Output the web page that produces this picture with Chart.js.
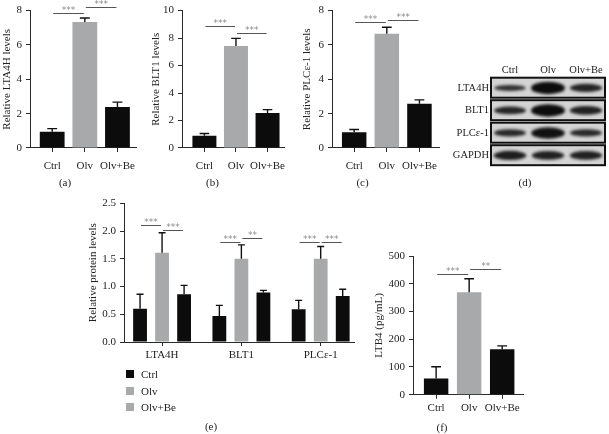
<!DOCTYPE html>
<html>
<head>
<meta charset="utf-8">
<script src="https://cdn.jsdelivr.net/npm/chart.js@4.4.1/dist/chart.umd.min.js"></script>
<style>
  html, body { margin: 0; padding: 0; background: #fff; overflow: hidden; }
  body { position: relative; width: 609px; height: 434px; }
  canvas { position: absolute; }
  #legendE { position: absolute; left: 126px; top: 366px; font: 11px "Liberation Serif", serif; color: #222; }
  #legendE div { height: 16.5px; display: flex; align-items: center; }
  #legendE span { display: inline-block; width: 8px; height: 8px; margin-right: 7px; }
</style>
</head>
<body>
<canvas id="a"></canvas>
<canvas id="b"></canvas>
<canvas id="c"></canvas>
<canvas id="d"></canvas>
<canvas id="e"></canvas>
<canvas id="f"></canvas>
<div id="legendE"></div>
<script>
// groups and values
const groups = ['Ctrl', 'Olv', 'Olv+Be'];

const lta4hMean = [0.94, 7.34, 2.38];
const lta4hSD = [0.19, 0.23, 0.29];
const blt1Mean = [0.89, 7.43, 2.55];
const blt1SD = [0.17, 0.55, 0.24];
const plcMean = [0.92, 6.65, 2.57];
const plcSD = [0.16, 0.38, 0.23];

const proteins = ['LTA4H', 'BLT1', 'PLCε-1'];
const protCtrl = [0.6, 0.47, 0.59];
const protCtrlSD = [0.26, 0.19, 0.16];
const protOlv = [1.61, 1.5, 1.5];
const protOlvSD = [0.36, 0.25, 0.22];
const protOlvBe = [0.86, 0.89, 0.83];
const protOlvBeSD = [0.16, 0.04, 0.12];

const ltb4Mean = [58, 369, 164];
const ltb4SD = [43, 49, 12];

// western blot rows and band strength (0..1)
const blotRows = ['LTA4H', 'BLT1', 'PLCε-1', 'GAPDH'];
const bandLTA4H = [0.3, 1.0, 0.55];
const bandBLT1 = [0.5, 1.0, 0.6];
const bandPLC = [0.45, 0.9, 0.45];
const bandGAPDH = [0.65, 0.6, 0.6];

// y ticks
const ticksA = [0, 2, 4, 6, 8];
const ticksB = [0, 2, 4, 6, 8, 10];
const ticksC = [0, 2, 4, 6, 8];
const ticksE = [0, 0.5, 1, 1.5, 2, 2.5];
const ticksF = [0, 100, 200, 300, 400, 500];

// significance: [datasetA, indexA, datasetB, indexB, level, label]
const sigA = [[0, 0, 0, 1, 7.86, '***'], [0, 1, 0, 2, 8.19, '***']];
const sigB = [[0, 0, 0, 1, 8.87, '***'], [0, 1, 0, 2, 8.34, '***']];
const sigC = [[0, 0, 0, 1, 7.34, '***'], [0, 1, 0, 2, 7.48, '***']];
const sigE = [
  [0, 0, 1, 0, 2.1, '***'], [1, 0, 2, 0, 2.02, '***'],
  [0, 1, 1, 1, 1.81, '***'], [1, 1, 2, 1, 1.88, '**'],
  [0, 2, 1, 2, 1.8, '***'], [1, 2, 2, 2, 1.8, '***']
];
const sigF = [[0, 0, 0, 1, 434, '***'], [0, 1, 0, 2, 452, '**']];

Chart.defaults.font.family = '"Liberation Serif", "DejaVu Serif", serif';
Chart.defaults.font.size = 11;
Chart.defaults.color = '#222';
Chart.defaults.animation = false;

const BLACK = '#0c0c0c';
const GRAY = '#a7a9ab';
const AXIS = '#2a2a2a';

const errorBars = {
  id: 'errorBars',
  afterDatasetsDraw(chart) {
    const { ctx, scales: { y } } = chart;
    chart.data.datasets.forEach((ds, di) => {
      chart.getDatasetMeta(di).data.forEach((bar, i) => {
        const top = y.getPixelForValue(ds.data[i].y + ds.sd[i]);
        const cap = Math.max(bar.width * 0.2, 3.5);
        ctx.save();
        ctx.strokeStyle = '#111';
        ctx.lineWidth = 1.4;
        ctx.beginPath();
        ctx.moveTo(bar.x, bar.y);
        ctx.lineTo(bar.x, top);
        ctx.moveTo(bar.x - cap, top);
        ctx.lineTo(bar.x + cap, top);
        ctx.stroke();
        ctx.restore();
      });
    });
  }
};

const sigBars = {
  id: 'sigBars',
  afterDatasetsDraw(chart, args, opts) {
    const { ctx, scales: { y } } = chart;
    (opts.items || []).forEach(([da, ia, db, ib, v, txt]) => {
      const xa = chart.getDatasetMeta(da).data[ia].x + 1;
      const xb = chart.getDatasetMeta(db).data[ib].x - 1;
      const yy = Math.round(y.getPixelForValue(v)) + 0.5;
      ctx.save();
      ctx.strokeStyle = '#555';
      ctx.lineWidth = 1;
      ctx.beginPath();
      ctx.moveTo(xa, yy);
      ctx.lineTo(xb, yy);
      ctx.stroke();
      ctx.fillStyle = '#8a8a8a';
      ctx.font = '9px "DejaVu Sans"';
      ctx.textAlign = 'center';
      ctx.fillText(txt, (xa + xb) / 2, yy - 1);
      ctx.restore();
    });
  }
};

const blot = {
  id: 'blot',
  beforeDatasetsDraw(chart) {
    const { ctx, chartArea: ca, scales: { y } } = chart;
    const rh = Math.abs(y.getPixelForValue(1) - y.getPixelForValue(0));
    chart.data.datasets.forEach((ds, r) => {
      const cy = y.getPixelForValue(r);
      const top = cy - rh / 2 + 1;
      const h = rh - 2.5;
      ctx.save();
      ctx.fillStyle = '#d4d4d4';
      ctx.fillRect(ca.left, top, ca.right - ca.left, h);
      ctx.beginPath();
      ctx.rect(ca.left, top, ca.right - ca.left, h);
      ctx.clip();
      ctx.filter = 'blur(1.6px)';
      chart.getDatasetMeta(r).data.forEach((pt, i) => {
        const v = ds.band[i];
        ctx.fillStyle = 'rgba(12,12,12,' + (0.75 + v * 0.25) + ')';
        ctx.beginPath();
        ctx.ellipse(pt.x, cy, 15 + v * 2, 1.6 + v * 4.6, 0, 0, Math.PI * 2);
        ctx.fill();
      });
      ctx.restore();
      ctx.save();
      ctx.strokeStyle = '#111';
      ctx.lineWidth = 2;
      ctx.strokeRect(ca.left, top, ca.right - ca.left, h);
      ctx.restore();
    });
  }
};

function place(id, g) {
  const cv = document.getElementById(id);
  cv.width = Math.round(g.x1 + g.pr - g.L);
  cv.height = Math.round(g.ly + 12 - g.T);
  cv.style.left = g.L + 'px';
  cv.style.top = g.T + 'px';
  return cv;
}

function letter(text, top) {
  return {
    display: true, position: 'bottom', text: text, color: '#222',
    font: { size: 11, weight: 'normal' },
    padding: { top: top || 0, bottom: 5.4 }
  };
}

function barPanel(id, g, o) {
  const cv = place(id, Object.assign({ pr: 6 }, g));
  const H = cv.height;
  return new Chart(cv, {
    type: 'bar',
    data: { datasets: o.datasets },
    options: {
      responsive: false,
      devicePixelRatio: 1,
      layout: { padding: { left: 0, right: 6, top: g.top - g.T, bottom: 0 } },
      datasets: { bar: { categoryPercentage: o.cat, barPercentage: o.bar } },
      scales: {
        x: {
          type: 'linear', min: o.xmin, max: o.xmax, offset: false,
          afterBuildTicks: s => { s.ticks = o.labels.map((_, i) => ({ value: i })); },
          afterFit: s => { s.height = H - 18.6 - (g.bot - g.T); },
          grid: { offset: false, drawOnChartArea: false, tickLength: 4, color: AXIS },
          border: { color: AXIS },
          ticks: { padding: g.xpad, autoSkip: false, maxRotation: 0, callback: v => o.labels[v] }
        },
        y: {
          min: 0, max: o.ticks[o.ticks.length - 1],
          afterBuildTicks: s => { s.ticks = o.ticks.map(v => ({ value: v })); },
          afterFit: s => { s.width = g.x0 - g.L; },
          grid: { drawOnChartArea: false, tickLength: 4, color: AXIS },
          border: { color: AXIS },
          ticks: { padding: 4, callback: o.fmt || (v => v) },
          title: { display: true, text: o.ytitle, padding: { top: g.ytx - g.L - 6.6, bottom: 0 } }
        }
      },
      plugins: {
        legend: { display: false },
        tooltip: { enabled: false },
        title: letter(o.letter),
        sigBars: { items: o.sig }
      }
    },
    plugins: [errorBars, sigBars]
  });
}

function single(mean, sd) {
  return [{ data: mean.map((v, i) => ({ x: i, y: v })), sd: sd, backgroundColor: [BLACK, GRAY, BLACK] }];
}

barPanel('a', { L: -8, T: 0, x0: 30, x1: 138, top: 9.3, bot: 148, ytx: 7, ly: 182.5, xpad: 8 }, {
  datasets: single(lta4hMean, lta4hSD), labels: groups, ticks: ticksA, sig: sigA,
  xmin: -0.68, xmax: 2.59, cat: 1, bar: 0.76, ytitle: 'Relative LTA4H levels', letter: '(a)'
});

barPanel('b', { L: 137, T: 0, x0: 182, x1: 288, top: 9.3, bot: 148, ytx: 156, ly: 182.5, xpad: 8 }, {
  datasets: single(blt1Mean, blt1SD), labels: groups, ticks: ticksB, sig: sigB,
  xmin: -0.71, xmax: 2.54, cat: 1, bar: 0.76, ytitle: 'Relative BLT1 levels', letter: '(b)'
});

barPanel('c', { L: 285, T: 0, x0: 332, x1: 440, top: 9.3, bot: 148, ytx: 307.5, ly: 182.5, xpad: 8 }, {
  datasets: single(plcMean, plcSD), labels: groups, ticks: ticksC, sig: sigC,
  xmin: -0.68, xmax: 2.6, cat: 1, bar: 0.75, ytitle: 'Relative PLCε-1 levels', letter: '(c)'
});

const chartE = barPanel('e', { L: 68, T: 190, x0: 124, x1: 354, top: 203.3, bot: 342, ytx: 93, ly: 427, xpad: 2.5 }, {
  datasets: [
    { label: 'Ctrl', data: protCtrl.map((v, i) => ({ x: i, y: v })), sd: protCtrlSD, backgroundColor: BLACK, legendColor: BLACK },
    { label: 'Olv', data: protOlv.map((v, i) => ({ x: i, y: v })), sd: protOlvSD, backgroundColor: GRAY, legendColor: GRAY },
    { label: 'Olv+Be', data: protOlvBe.map((v, i) => ({ x: i, y: v })), sd: protOlvBeSD, backgroundColor: BLACK, legendColor: GRAY }
  ],
  labels: proteins, ticks: ticksE, sig: sigE, fmt: v => v.toFixed(1),
  xmin: -0.48, xmax: 2.42, cat: 0.833, bar: 0.627, ytitle: 'Relative protein levels', letter: '(e)'
});

barPanel('f', { L: 361, T: 230, x0: 413, x1: 523, top: 256, bot: 394.7, ytx: 379.5, ly: 428, xpad: 2.5 }, {
  datasets: single(ltb4Mean, ltb4SD), labels: groups, ticks: ticksF, sig: sigF,
  xmin: -0.7, xmax: 2.63, cat: 1, bar: 0.74, ytitle: 'LTB4 (pg/mL)', letter: '(f)'
});

// legend for (e), built from the chart's datasets
document.getElementById('legendE').innerHTML = chartE.data.datasets
  .map(ds => '<div><span style="background:' + ds.legendColor + '"></span>' + ds.label + '</div>')
  .join('');

// (d) western blot
const bands = [bandLTA4H, bandBLT1, bandPLC, bandGAPDH];
const gD = { L: 445, T: 55, x1: 605, pr: 4, ly: 183 };
const cvD = place('d', gD);
new Chart(cvD, {
  type: 'scatter',
  data: {
    datasets: blotRows.map((r, ri) => ({
      label: r, band: bands[ri], pointRadius: 0,
      data: groups.map(g => ({ x: g, y: r }))
    }))
  },
  options: {
    responsive: false,
    devicePixelRatio: 1,
    layout: { padding: { left: 0, right: 4, top: 0, bottom: 0 } },
    scales: {
      x: {
        type: 'category', labels: groups, position: 'top', offset: true,
        grid: { display: false, drawTicks: false }, border: { display: false },
        ticks: { padding: 0, maxRotation: 0, minRotation: 0, autoSkip: false, font: { size: 10.5 } },
        afterFit: s => { s.height = 21.7; }
      },
      y: {
        type: 'category', labels: blotRows, offset: true,
        grid: { display: false, drawTicks: false }, border: { display: false },
        ticks: { padding: 2, autoSkip: false, font: { size: 10.5 } },
        afterFit: s => { s.width = 46; }
      }
    },
    plugins: {
      legend: { display: false },
      tooltip: { enabled: false },
      title: letter('(d)', 9.7)
    }
  },
  plugins: [blot]
});
</script>
</body>
</html>
